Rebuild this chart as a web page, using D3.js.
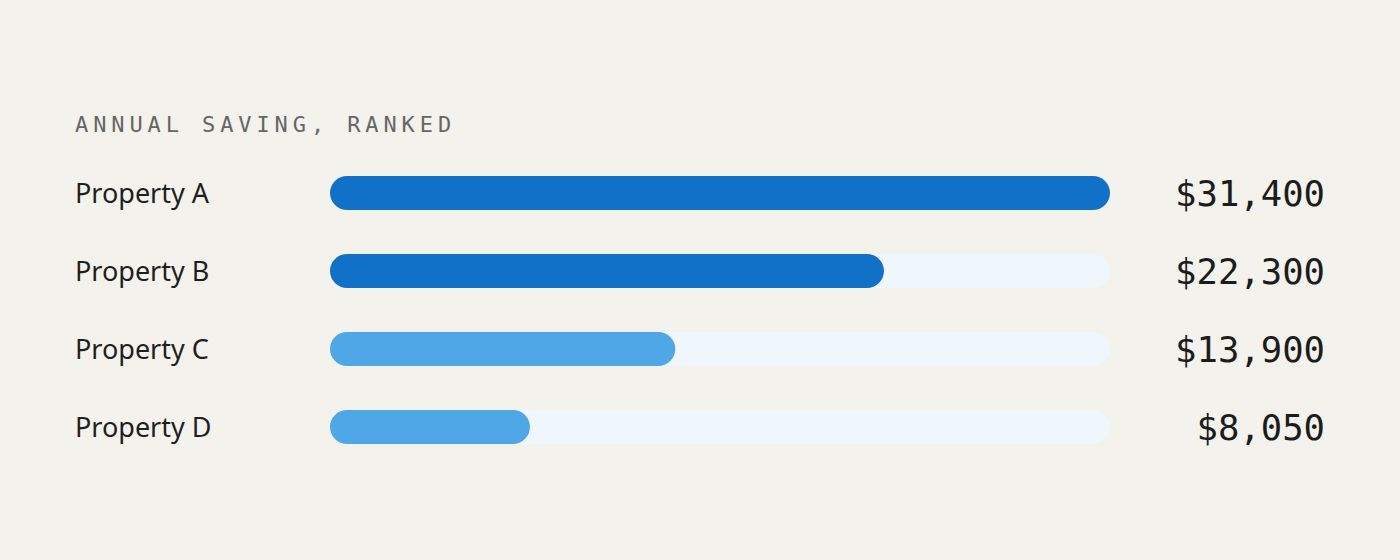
<!DOCTYPE html>
<html>
<head>
<meta charset="utf-8">
<script src="https://cdn.jsdelivr.net/npm/d3@7"></script>
<style>
  html, body { margin: 0; padding: 0; background: #f3f2ed; }
</style>
</head>
<body>
<div id="chart"></div>
<script>
const properties = ["Property A", "Property B", "Property C", "Property D"];
const savings = [31400, 22300, 13900, 8050];
const tiers = ["high", "high", "mid", "mid"];
const title = "ANNUAL SAVING, RANKED";

const width = 1400;
const height = 560;

const svg = d3
  .select("#chart")
  .append("svg")
  .attr("width", width)
  .attr("height", height);

svg.append("rect").attr("width", width).attr("height", height).attr("fill", "#f3f2ed");

const rows = properties.map((p, i) => ({ name: p, value: savings[i], tier: tiers[i] }));

const xScale = d3.scaleLinear().domain([0, d3.max(savings)]).range([330, 1110]);
const yScale = d3
  .scaleBand()
  .domain(properties)
  .range([154, 466])
  .paddingInner(0.5641)
  .paddingOuter(0.282);

const colorScale = d3.scaleOrdinal().domain(["high", "mid"]).range(["#1170c7", "#4fa7e6"]);

const barH = yScale.bandwidth();

// Title
svg.append("text")
  .attr("x", 75)
  .attr("y", 132)
  .attr("font-family", "'DejaVu Sans Mono', monospace")
  .attr("font-size", 22)
  .attr("letter-spacing", 4.9)
  .attr("fill", "#666666")
  .text(title);

const row = svg.selectAll(".row")
  .data(rows)
  .enter()
  .append("g")
  .attr("class", "row")
  .attr("transform", (d) => `translate(0,${yScale(d.name)})`);

// Track
row.append("rect")
  .attr("x", xScale(0))
  .attr("y", 0)
  .attr("width", xScale(d3.max(savings)) - xScale(0))
  .attr("height", barH)
  .attr("rx", barH / 2)
  .attr("fill", "#eff7fd");

// Bar
row.append("rect")
  .attr("x", xScale(0))
  .attr("y", 0)
  .attr("width", (d) => xScale(d.value) - xScale(0))
  .attr("height", barH)
  .attr("rx", barH / 2)
  .attr("fill", (d) => colorScale(d.tier));

// Labels
row.append("text")
  .attr("x", 75)
  .attr("y", barH / 2)
  .attr("dy", "0.36em")
  .attr("font-family", "'Noto Sans', sans-serif")
  .attr("font-size", 27)
  .attr("fill", "#1f1f1f")
  .text((d) => d.name);

// Values
const fmt = d3.format("$,");
row.append("text")
  .attr("x", 1325)
  .attr("y", barH / 2)
  .attr("dy", "0.37em")
  .attr("text-anchor", "end")
  .attr("font-family", "'DejaVu Sans Mono', monospace")
  .attr("font-size", 35.6)
  .attr("fill", "#1c1c1c")
  .text((d) => fmt(d.value));
</script>
</body>
</html>
